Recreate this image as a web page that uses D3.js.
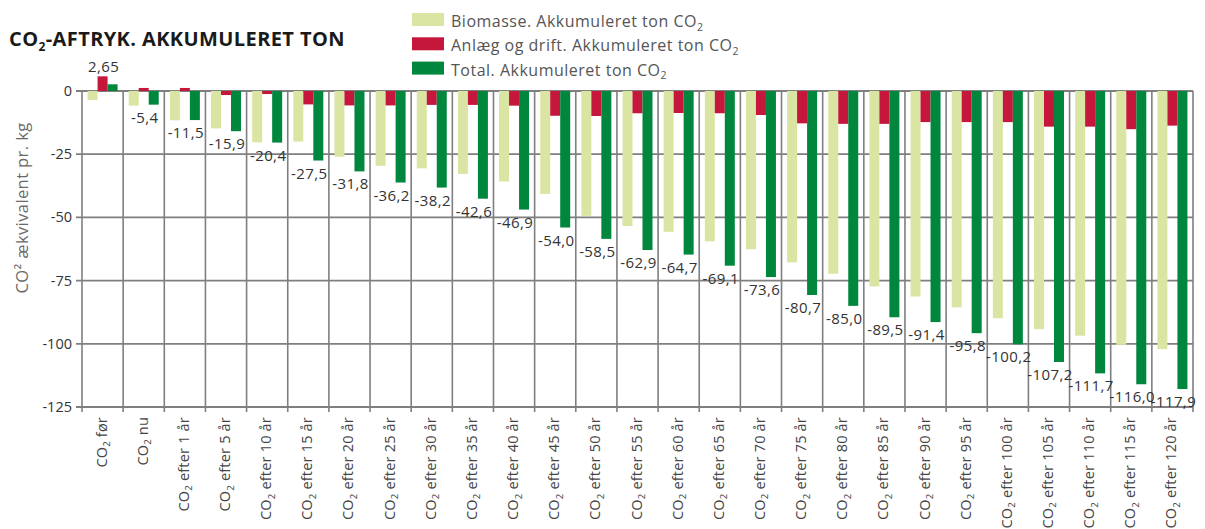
<!DOCTYPE html>
<html><head><meta charset="utf-8">
<script src="https://cdn.jsdelivr.net/npm/d3@7"></script>
<style>
html,body{margin:0;padding:0;background:#fff;}
svg{display:block;font-family:"Open Sans",sans-serif;}
</style></head>
<body><svg id="c" width="1205" height="529"></svg>
<script>
const categories = ["CO2 før","CO2 nu","CO2 efter 1 år","CO2 efter 5 år","CO2 efter 10 år","CO2 efter 15 år","CO2 efter 20 år","CO2 efter 25 år","CO2 efter 30 år","CO2 efter 35 år","CO2 efter 40 år","CO2 efter 45 år","CO2 efter 50 år","CO2 efter 55 år","CO2 efter 60 år","CO2 efter 65 år","CO2 efter 70 år","CO2 efter 75 år","CO2 efter 80 år","CO2 efter 85 år","CO2 efter 90 år","CO2 efter 95 år","CO2 efter 100 år","CO2 efter 105 år","CO2 efter 110 år","CO2 efter 115 år","CO2 efter 120 år"];
const biomasse = [-3.6,-5.8,-11.6,-14.8,-20.3,-20.0,-26.0,-29.6,-30.6,-32.8,-35.8,-40.7,-49.4,-53.4,-55.7,-59.5,-62.6,-67.8,-72.3,-77.3,-81.3,-85.6,-89.9,-94.2,-96.8,-100.4,-102.1];
const anlaeg = [5.8,1.2,1.2,-1.6,-1.2,-5.3,-5.7,-5.7,-5.5,-5.5,-5.8,-9.8,-9.9,-8.8,-8.7,-8.8,-9.5,-12.8,-13.0,-13.0,-12.3,-12.3,-12.3,-14.1,-14.1,-15.1,-13.7];
const total = [2.65,-5.4,-11.5,-15.9,-20.4,-27.5,-31.8,-36.2,-38.2,-42.6,-46.9,-54.0,-58.5,-62.9,-64.7,-69.1,-73.6,-80.7,-85.0,-89.5,-91.4,-95.8,-100.2,-107.2,-111.7,-116.0,-117.9];
const seriesNames = ["Biomasse. Akkumuleret ton CO2","Anlæg og drift. Akkumuleret ton CO2","Total. Akkumuleret ton CO2"];
const seriesColors = ["#dbe5a3","#c4173b","#00873d"];
const yTicks = [0,-25,-50,-75,-100,-125];
const titleText = "CO2-AFTRYK. AKKUMULERET TON";
const yTitle = "CO² ækvivalent pr. kg";

const svg = d3.select("#c");
const L = 82, R = 1193, T = 91, B = 407;
const x = d3.scaleBand().domain(categories).range([L, R]).paddingInner(0).paddingOuter(0);
const bw = x.bandwidth();
const xs = d3.scaleBand().domain([0,1,2]).range([(bw-30)/2, (bw+30)/2]);
const y = d3.scaleLinear().domain([-125, 0]).range([B, T]);

function co2Text(sel, str, subSize, dy) {
  const parts = str.split("CO2");
  parts.forEach((p, i) => {
    if (i > 0) {
      sel.append("tspan").text("CO");
      sel.append("tspan").attr("font-size", subSize).attr("dy", dy).text("2");
      sel.append("tspan").attr("dy", -dy).text(p);
    } else if (p) sel.append("tspan").text(p);
  });
}

// grid
const g = svg.append("g");
g.selectAll("line.h").data(yTicks).enter().append("line")
  .attr("x1", L - 6).attr("x2", R).attr("y1", d => y(d)).attr("y2", d => y(d))
  .attr("stroke", "#7f7f7f").attr("stroke-width", 1.8);
const vb = categories.map(c => x(c)).concat([R]);
g.selectAll("line.v").data(vb).enter().append("line")
  .attr("x1", d => d).attr("x2", d => d).attr("y1", T).attr("y2", B + 5)
  .attr("stroke", "#7f7f7f").attr("stroke-width", 1.6);

// y tick labels
svg.append("g").selectAll("text").data(yTicks).enter().append("text")
  .attr("x", L - 10).attr("y", d => y(d) + 5).attr("text-anchor", "end")
  .attr("font-size", 14.5).attr("fill", "#333").text(d => d === 0 ? "0" : "-" + Math.abs(d));

// y title
svg.append("text").attr("transform", "translate(28,208) rotate(-90)")
  .attr("text-anchor", "middle").attr("font-size", 16.5).attr("letter-spacing", 0.4)
  .attr("fill", "#6a6a6a").text(yTitle);

// bars
const series = [biomasse, anlaeg, total];
series.forEach((vals, si) => {
  svg.append("g").selectAll("rect").data(vals).enter().append("rect")
    .attr("x", (d, i) => x(categories[i]) + xs(si))
    .attr("width", xs.bandwidth())
    .attr("y", d => Math.min(y(d), y(0)))
    .attr("height", d => Math.abs(y(d) - y(0)))
    .attr("fill", seriesColors[si]);
});

// value labels
const fmt = v => (Math.round(v * 10) === v * 10 ? v.toFixed(1) : v.toFixed(2)).replace(".", ",");
svg.append("g").selectAll("text").data(total).enter().append("text")
  .attr("x", (d, i) => x(categories[i]) + bw / 2 + 1)
  .attr("y", d => d > 0 ? y(d) - 12 : y(d) + 18)
  .attr("text-anchor", "middle").attr("font-size", 15).attr("letter-spacing", 0.4).attr("fill", "#333")
  .text(fmt);

// x labels
const xl = svg.append("g").selectAll("text").data(categories).enter().append("text")
  .attr("transform", c => `translate(${x(c) + bw / 2 + 4},${B + 10}) rotate(-90)`)
  .attr("text-anchor", "end").attr("font-size", 14.5).attr("letter-spacing", 0.2).attr("fill", "#444");
xl.each(function(c) { co2Text(d3.select(this), c, 9.5, 3.5); });

// title
const tt = svg.append("text").attr("x", 9).attr("y", 46)
  .attr("font-size", 20).attr("font-weight", 700).attr("fill", "#1a1a1a").attr("letter-spacing", 0.4);
co2Text(tt, titleText, 12, 5);

// legend
const lg = svg.append("g");
seriesNames.forEach((n, i) => {
  lg.append("rect").attr("x", 412).attr("y", 13 + i * 24.3).attr("width", 32).attr("height", 13)
    .attr("fill", seriesColors[i]);
  const t = lg.append("text").attr("x", 451).attr("y", 27 + i * 24.3)
    .attr("font-size", 16).attr("letter-spacing", 0.5).attr("fill", "#555");
  co2Text(t, n, 10.5, 3.5);
});
</script></body></html>
